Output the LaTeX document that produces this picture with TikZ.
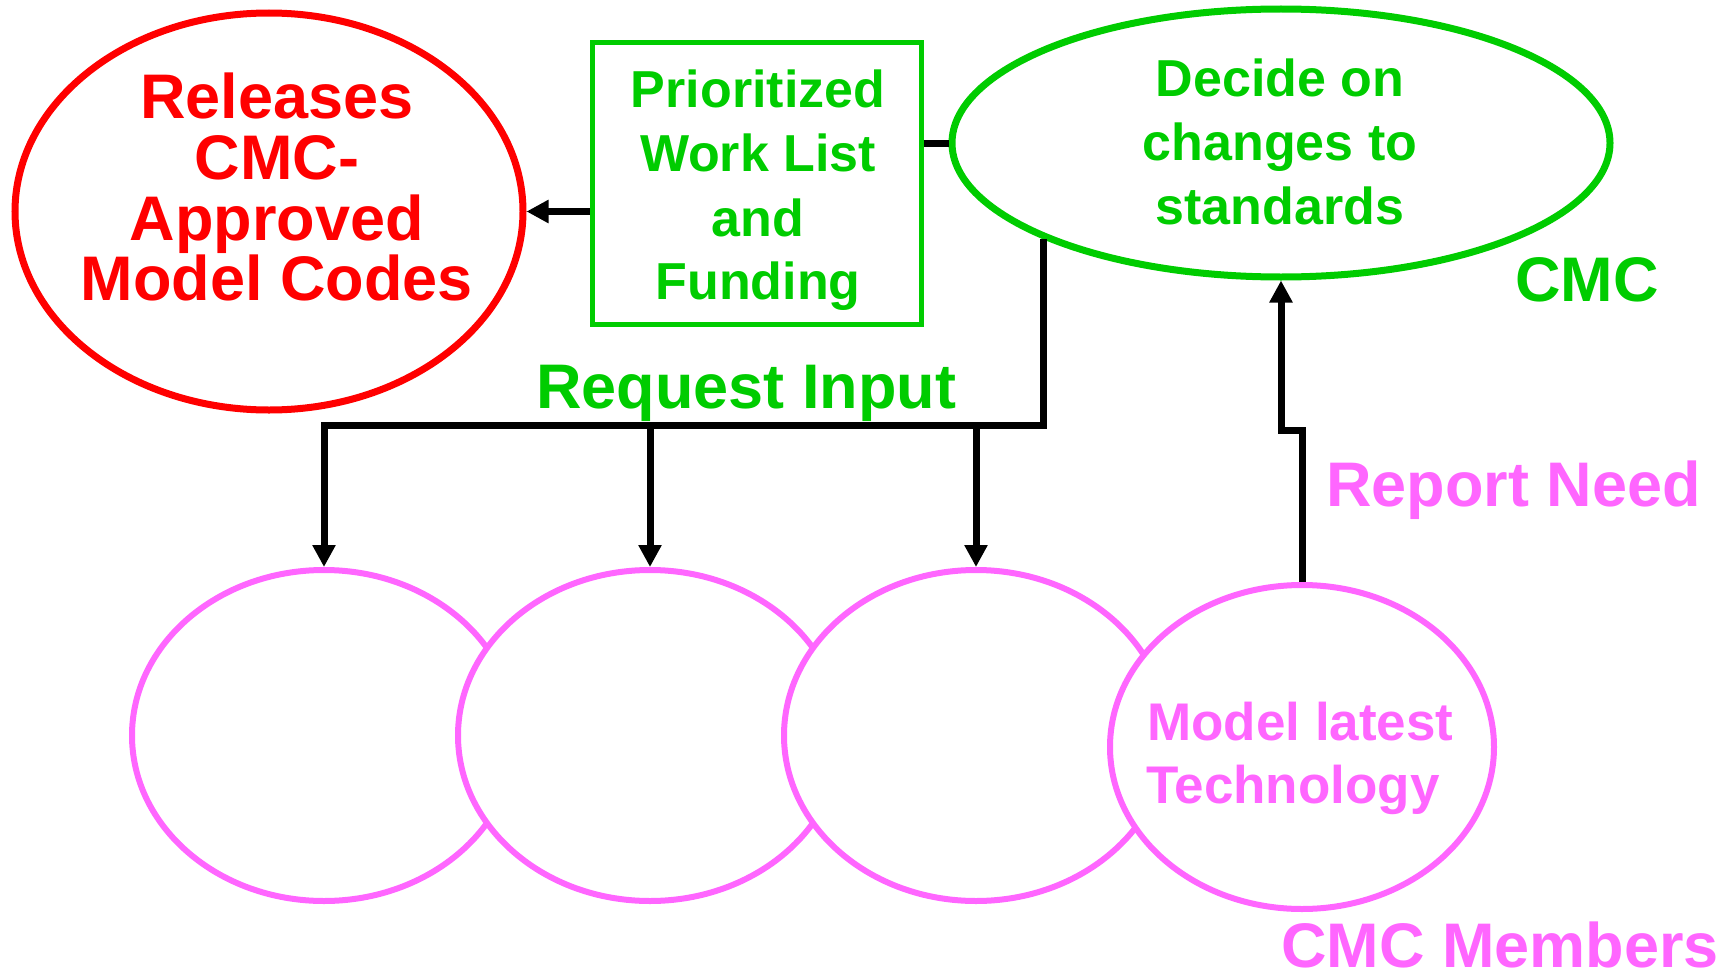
\documentclass[tikz,border=0pt]{standalone}
\usepackage{fontspec}
\setmainfont{Liberation Sans}
\usetikzlibrary{arrows.meta,shapes.geometric}
\definecolor{cred}{HTML}{FF0000}
\definecolor{cgreen}{HTML}{00CC00}
\definecolor{cpink}{HTML}{FF66FF}
\begin{document}
\begin{tikzpicture}[x=1pt,y=-1pt,
  redell/.style={ellipse,draw=cred,line width=7pt,inner sep=0pt,minimum width=508pt,minimum height=397pt},
  greenell/.style={ellipse,draw=cgreen,line width=7pt,inner sep=0pt,minimum width=658pt,minimum height=268pt},
  greenbox/.style={rectangle,draw=cgreen,line width=5pt,inner sep=0pt,minimum width=328.5pt,minimum height=281pt},
  pinkell/.style={ellipse,draw=cpink,fill=white,line width=6pt,inner sep=0pt,minimum width=384pt,minimum height=331pt},
  conn/.style={draw=black,line width=7pt},
  arr/.style={conn,-{Triangle[length=22pt,width=22pt]}},
  bigred/.style={text=cred,font=\fontsize{63}{60}\selectfont\bfseries,anchor=base,inner sep=0pt},
  midgreen/.style={text=cgreen,font=\fontsize{52}{64}\selectfont\bfseries,anchor=base,inner sep=0pt},
  biggreen/.style={text=cgreen,font=\fontsize{63}{60}\selectfont\bfseries,anchor=base west,inner sep=0pt},
  bigpink/.style={text=cpink,font=\fontsize{63}{60}\selectfont\bfseries,anchor=base west,inner sep=0pt},
  midpink/.style={text=cpink,font=\fontsize{53}{64}\selectfont\bfseries,anchor=base west,inner sep=0pt}
]
\useasboundingbox (0,0) rectangle (1727,974);

% main shapes
\node[redell] (rel) at (269,211.5) {};
\node[greenbox] (box) at (756.75,183.5) {};
\node[greenell] (cmc) at (1281,143) {};
\node[pinkell] (p1) at (324,735.5) {};
\node[pinkell] (p2) at (650,735.5) {};
\node[pinkell] (p3) at (976,735.5) {};
\node[pinkell,minimum height=324pt] (p4) at (1302,747) {};

% texts in shapes
\node[bigred] (r1) at (277,118.5) {Releases};
\node[bigred] (r2) at (277,179) {CMC-};
\node[bigred] (r3) at (277,240) {Approved};
\node[bigred] (r4) at (277,300.5) {Model Codes};

\node[midgreen] (b1) at (758,107.7) {Prioritized};
\node[midgreen] (b2) at (758,171.7) {Work List};
\node[midgreen] (b3) at (758,236) {and};
\node[midgreen] (b4) at (758,299.5) {Funding};

\node[midgreen] (d1) at (1280,96.7) {Decide on};
\node[midgreen] (d2) at (1280,160.5) {changes to};
\node[midgreen] (d3) at (1280,224.3) {standards};

\node[midpink] (m1) at (1147,740) {Model latest};
\node[midpink] (m2) at (1146,803) {Technology};

% labels
\node[biggreen] (lcmc) at (1515,301) {CMC};
\node[biggreen] (lreq) at (536,408) {Request Input};
\node[bigpink] (lrep) at (1326,506) {Report Need};
\node[bigpink,text depth=0pt] (lmem) at (1281,967) {CMC Members};

% connectors
\coordinate (busL) at (324,425);
\coordinate (jog) at (1281,430);
\draw[arr] (rel.east -| box.west) -- (rel.east);
\draw[conn] (box.east |- cmc.west) -- (cmc.west);
\draw[arr] (cmc.202.8) |- (busL) -- (p1.north);
\draw[arr] (p2.north |- busL) -- (p2.north);
\draw[arr] (p3.north |- busL) -- (p3.north);
\draw[arr] (p4.north) |- (jog) -- (cmc.south);
\end{tikzpicture}
\end{document}
